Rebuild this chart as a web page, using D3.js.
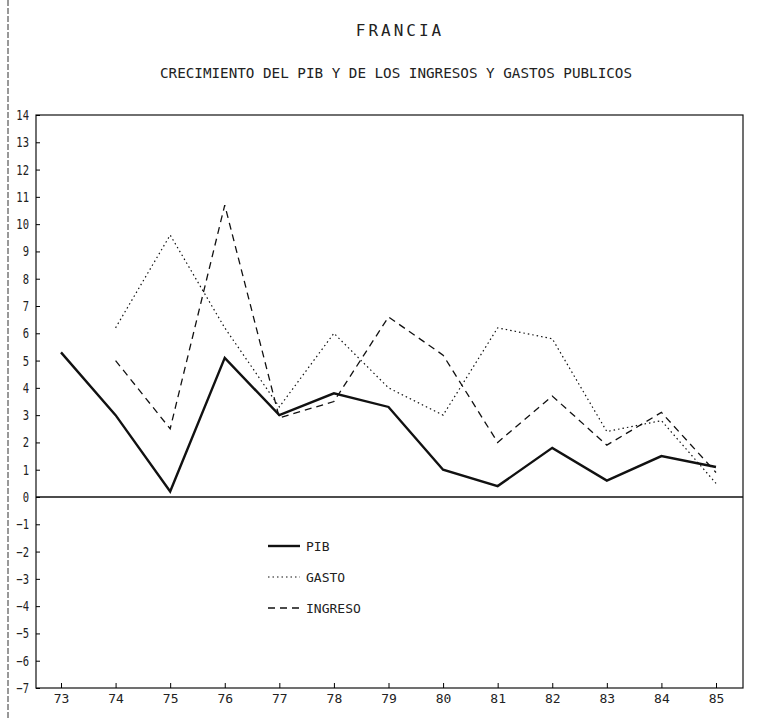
<!DOCTYPE html>
<html><head><meta charset="utf-8">
<script src="https://cdn.jsdelivr.net/npm/d3@7"></script>
<style>body{margin:0;background:#fff}text{font-family:"DejaVu Sans Mono",monospace;fill:#222}</style>
</head><body><svg id="c" width="759" height="718"></svg>
<script>
const years = ["73","74","75","76","77","78","79","80","81","82","83","84","85"];
const pib     = [5.3,3.0,0.2,5.1,3.0,3.8,3.3,1.0,0.4,1.8,0.6,1.5,1.1];
const gasto   = [null,6.2,9.6,6.2,3.3,6.0,4.0,3.0,6.2,5.8,2.4,2.8,0.5];
const ingreso = [null,5.0,2.5,10.7,2.9,3.5,6.6,5.2,2.0,3.7,1.9,3.1,0.9];
const yTicks = d3.range(-7,15);
const series = [
  {name:"PIB", values:pib, dash:null, w:2.4},
  {name:"GASTO", values:gasto, dash:"1.5,3", w:1.2},
  {name:"INGRESO", values:ingreso, dash:"7,5", w:1.3}
];
const svg = d3.select("#c");
const L=36,R=743,T=115,B=688;
const x = d3.scalePoint().domain(years).range([61,716]);
const y = d3.scaleLinear().domain([-7,14]).range([B,T]);
svg.append("line").attr("x1",8).attr("x2",8).attr("y1",0).attr("y2",718).attr("stroke","#333").attr("stroke-dasharray","6,2");
svg.append("rect").attr("x",L).attr("y",T).attr("width",R-L).attr("height",B-T).attr("fill","none").attr("stroke","#111").attr("stroke-width",1.2);
svg.append("line").attr("x1",L).attr("x2",R).attr("y1",y(0)).attr("y2",y(0)).attr("stroke","#111").attr("stroke-width",1.5);
const ya = svg.append("g").attr("transform",`translate(${L},0)`).call(d3.axisLeft(y).tickValues(yTicks).tickSize(-4).tickPadding(4).tickFormat(d3.format("d")));
ya.select(".domain").remove();
ya.selectAll("text").style("font-size","14px").attr("text-anchor","end").attr("textLength",null);
ya.selectAll("text").each(function(){const t=d3.select(this);t.attr("transform",`translate(${-4},0) scale(0.75,1)`);});
const xa = svg.append("g").attr("transform",`translate(0,${B})`).call(d3.axisBottom(x).tickSize(-5).tickPadding(6));
xa.select(".domain").remove();
xa.selectAll("text").style("font-size","13px");
const line = d3.line().defined(d=>d.v!=null).x(d=>x(d.y)).y(d=>y(d.v));
series.forEach(s=>{
  svg.append("path").datum(years.map((yr,i)=>({y:yr,v:s.values[i]})))
    .attr("d",line).attr("fill","none").attr("stroke","#111").attr("stroke-width",s.w)
    .attr("stroke-dasharray",s.dash);
});
series.forEach((s,i)=>{
  const yy=546+i*31;
  svg.append("line").attr("x1",268).attr("x2",300).attr("y1",yy).attr("y2",yy).attr("stroke","#111").attr("stroke-width",s.w).attr("stroke-dasharray",s.dash);
  svg.append("text").attr("x",306).attr("y",yy+5).style("font-size","13px").text(s.name);
});
svg.append("text").attr("x",400).attr("y",36).attr("text-anchor","middle").style("font-size","16px").style("letter-spacing","3px").text("FRANCIA");
svg.append("text").attr("x",160).attr("y",78).attr("textLength",472).attr("lengthAdjust","spacingAndGlyphs").style("font-size","14px").text("CRECIMIENTO DEL PIB Y DE LOS INGRESOS Y GASTOS PUBLICOS");
</script></body></html>
